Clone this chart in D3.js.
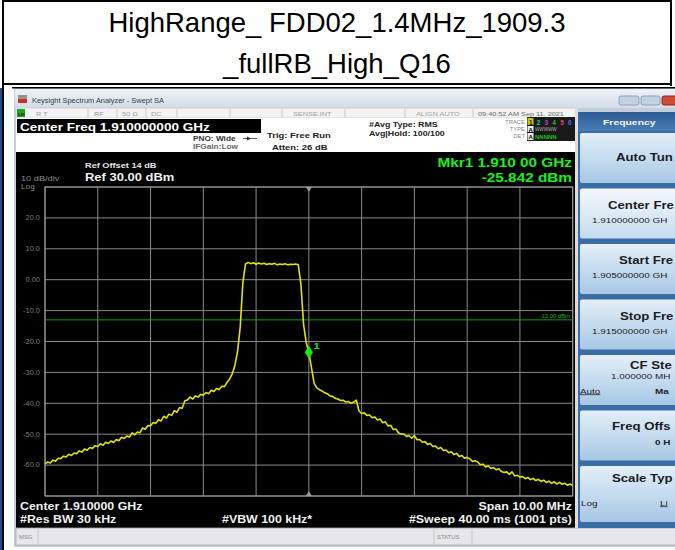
<!DOCTYPE html>
<html><head><meta charset="utf-8">
<script src="https://cdn.jsdelivr.net/npm/d3@7"></script>
<style>
html,body{margin:0;padding:0;background:#fff;}
svg{display:block;}
text{font-family:"Liberation Sans",Arial,sans-serif;}
</style>
</head><body>
<svg id="c" width="675" height="550"></svg>
<script>
// ---------------- DATA ----------------
const titleLines = ["HighRange_ FDD02_1.4MHz_1909.3", "_fullRB_High_Q16"];
const startMHz = 1905, stopMHz = 1915, stepMHz = 0.05;   // 201 trace bins
const refLevelDbm = 30, bottomLevelDbm = -70;
// trace level (dBm) per bin
const levelDbm = [
  -59.6,-59.0,-59.3,-58.4,-58.7,-57.8,-57.9,-57.1,-57.4,-56.5,-56.9,-56.1,-56.3,-55.4,-55.8,-54.8,-55.2,-54.3,-54.6,-53.7,
  -54.0,-53.1,-53.6,-52.6,-53.0,-52.2,-52.7,-51.7,-52.1,-51.0,-51.4,-50.6,-50.9,-49.6,-50.2,-49.3,-49.5,-48.0,-48.4,-47.2,
  -47.3,-46.2,-46.5,-45.3,-45.7,-44.2,-44.8,-43.5,-43.9,-42.4,-42.9,-41.4,-41.6,-39.2,-38.9,-38.0,-38.6,-37.6,-38.0,-37.1,
  -37.4,-36.5,-36.9,-35.8,-36.2,-35.2,-35.5,-34.5,-34.6,-33.2,-32.1,-30.4,-27.6,-23.1,-15.2,-0.8,5.1,5.6,5.2,5.5,
  5.0,5.4,5.1,5.3,4.9,5.2,5.0,5.3,4.8,5.1,4.9,5.2,4.8,5.0,4.9,5.1,4.8,-1.5,-14.5,-20.3,
  -23.5,-28.5,-33.5,-35.0,-35.6,-36.0,-36.6,-36.9,-37.6,-37.8,-38.4,-38.6,-39.1,-39.0,-39.6,-39.4,-40.0,-39.6,-39.0,-42.5,
  -43.3,-43.1,-43.9,-43.8,-44.7,-44.4,-45.4,-45.1,-46.3,-46.0,-47.3,-47.1,-48.5,-48.3,-49.6,-49.9,-50.0,-50.7,-50.5,-51.3,
  -50.4,-51.8,-51.7,-52.6,-52.4,-53.3,-53.0,-54.0,-53.8,-54.7,-54.3,-55.3,-55.1,-56.0,-55.7,-56.6,-56.2,-57.2,-56.9,-57.8,
  -57.5,-58.0,-58.8,-58.6,-59.0,-59.9,-59.7,-60.6,-60.2,-61.1,-60.8,-61.5,-61.2,-62.1,-62.4,-62.2,-63.0,-62.2,-63.5,-63.3,
  -63.9,-63.7,-64.4,-64.0,-64.7,-64.3,-65.0,-64.6,-65.3,-64.9,-65.6,-65.2,-65.9,-65.4,-66.1,-65.6,-66.2,-65.9,-66.5,-66.1,
  -66.6
];
const yTickValues = [20,10,0,-10,-20,-30,-40,-50,-60];
const yTickLabels = ["20.0","10.0","0.00","-10.0","-20.0","-30.0","-40.0","-50.0","-60.0"];
const displayLineDbm = -13;
const displayLineLabel = "-13.00 dBm";
const markerMHz = 1910.0;
const markerText = ["Mkr1 1.910 00 GHz", "-25.842 dBm"];
const headerTexts = {
  win: "Keysight Spectrum Analyzer - Swept SA",
  cf: "Center Freq 1.910000000 GHz",
  pno: "PNO: Wide", ifg: "IFGain:Low", trig: "Trig: Free Run", atten: "Atten: 26 dB",
  avg: "#Avg Type: RMS", hold: "Avg|Hold: 100/100",
  refOff: "Ref Offset 14 dB", ref: "Ref 30.00 dBm", div: "10 dB/div", log: "Log",
  date: "09:40:52 AM Sep 11, 2021"
};
const footerTexts = ["Center 1.910000 GHz", "#Res BW 30 kHz", "#VBW 100 kHz*", "Span 10.00 MHz", "#Sweep  40.00 ms (1001 pts)"];
// softkey texts as visible in the (right-cropped) screenshot
const softkeys = [
  {label:"Auto Tun"},
  {label:"Center Fre", value:"1.910000000 GH", sel:true},
  {label:"Start Fre", value:"1.905000000 GH"},
  {label:"Stop Fre", value:"1.915000000 GH"},
  {label:"CF Ste", value:"1.000000 MH", left:"Auto", right:"Ma"},
  {label:"Freq Offs", value:"0 H"},
  {label:"Scale Typ", left:"Log", right:"Li"}
];

// ---------------- DRAW ----------------
const svg = d3.select("#c");
const defs = svg.append("defs");
function grad(id, c1, c2){
  const g = defs.append("linearGradient").attr("id", id).attr("x1",0).attr("y1",0).attr("x2",0).attr("y2",1);
  g.append("stop").attr("offset","0%").attr("stop-color",c1);
  g.append("stop").attr("offset","100%").attr("stop-color",c2);
}
grad("gTitle","#eef2f7","#d3dce7");
grad("gHead","#2c5a93","#4b7db7");
grad("gBtn","#e4eff9","#a7c7e5");
grad("gBtnSel","#f4f8fc","#c6dbef");

const SX = 1.18; // the screenshot is stretched horizontally
function t(p, x, y, str, o = {}) {
  return p.append("text")
    .attr("transform", `translate(${x},${y}) scale(${o.sx ?? SX},1)`)
    .attr("text-anchor", o.anchor || "start")
    .style("font-size", (o.size || 8) + "px")
    .style("font-weight", o.bold ? "bold" : "normal")
    .style("text-decoration", o.under ? "underline" : null)
    .attr("fill", o.fill || "#fff")
    .text(str);
}

svg.append("rect").attr("width",675).attr("height",550).attr("fill","#fff");

// title cell
titleLines.forEach((s,i) => {
  svg.append("text").attr("x",337).attr("y", 32 + i*41).attr("text-anchor","middle")
    .style("font-size","27.5px").attr("fill","#000").text(s);
});

// window frame
const win = svg.append("g");
win.append("rect").attr("x",14).attr("y",88).attr("width",662).attr("height",459).attr("fill","#c4ceda");
win.append("rect").attr("x",15).attr("y",89).attr("width",661).attr("height",19).attr("fill","url(#gTitle)");
win.append("rect").attr("x",18).attr("y",95).attr("width",9).attr("height",4).attr("fill","#9c918a");
win.append("rect").attr("x",18).attr("y",99).attr("width",9).attr("height",4).attr("fill","#d22a22");
t(win, 32, 103, headerTexts.win, {size:6.3, fill:"#3a3a3a"});
win.append("rect").attr("x",619).attr("y",96).attr("width",20).attr("height",9).attr("rx",2).attr("fill","#c3d1e2").attr("stroke","#8ea3bd");
win.append("rect").attr("x",641).attr("y",96).attr("width",19).attr("height",9).attr("rx",2).attr("fill","#c3d1e2").attr("stroke","#8ea3bd");
win.append("rect").attr("x",662).attr("y",96).attr("width",16).attr("height",9).attr("rx",2).attr("fill","#cf4a32").attr("stroke","#8a2a1a");

// status row
const st = win.append("g");
st.append("rect").attr("x",16).attr("y",108).attr("width",560).attr("height",10).attr("fill","#f3f3f3").attr("stroke","#c0c0c0").attr("stroke-width",0.6);
st.append("rect").attr("x",17).attr("y",109).attr("width",8).attr("height",8).attr("fill","#1fa71f");
t(st, 18, 115.5, "LXI", {size:3.6, fill:"#002000", bold:true});
[["R  T",36],["RF",94],["50 Ω",122],["DC",151],["SENSE:INT",293],["ALIGN AUTO",416]].forEach(([s,x]) =>
  t(st, x, 115.5, s, {size:6.2, fill:"#a0a0a0"}));
t(st, 478, 115.5, headerTexts.date, {size:6.2, fill:"#6a6a6a"});
[88,117,146,177,230,282,345,405,473].forEach(x =>
  st.append("line").attr("x1",x).attr("x2",x).attr("y1",108.5).attr("y2",117.5).attr("stroke","#c8c8c8"));

// info area
const inf = win.append("g");
inf.append("rect").attr("x",16).attr("y",118).attr("width",560).attr("height",34).attr("fill","#fff");
inf.append("rect").attr("x",17).attr("y",119).attr("width",244).attr("height",14).attr("fill","#000");
t(inf, 20, 130.5, headerTexts.cf, {size:11.5, bold:true, fill:"#fff"});
t(inf, 193, 141, headerTexts.pno, {size:7, bold:true, fill:"#333"});
inf.append("line").attr("x1",243).attr("x2",257).attr("y1",138.5).attr("y2",138.5).attr("stroke","#333").attr("stroke-width",0.8);
inf.append("path").attr("d","M247,136.5 L251,138.5 L247,140.5 Z").attr("fill","#333");
t(inf, 193, 149, headerTexts.ifg, {size:7, bold:true, fill:"#666"});
t(inf, 267, 137.5, headerTexts.trig, {size:8, bold:true, fill:"#222"});
t(inf, 272, 150, headerTexts.atten, {size:8, bold:true, fill:"#222"});
t(inf, 369, 127, headerTexts.avg, {size:7.5, bold:true, fill:"#222"});
t(inf, 369, 136, headerTexts.hold, {size:7.5, bold:true, fill:"#222"});
// trace table
inf.append("rect").attr("x",527).attr("y",117).attr("width",48).attr("height",24).attr("fill","#1a1a1a");
[["TRACE",124],["TYPE",131],["DET",138]].forEach(([s,y]) => t(inf, 525, y, s, {size:5, fill:"#8a8a8a", anchor:"end"}));
inf.append("rect").attr("x",527.5).attr("y",118).attr("width",6).attr("height",7).attr("fill","#c9c900");
const trCols = ["#1a1a00","#00d0d0","#c040c0","#20c020","#e04868","#4a66ff"];
trCols.forEach((c,i) => t(inf, 529 + i*7.8, 124.5, String(i+1), {size:6.3, bold:true, fill:c, sx:1}));
inf.append("rect").attr("x",527.5).attr("y",126).attr("width",6).attr("height",6).attr("fill","#eee");
inf.append("rect").attr("x",527.5).attr("y",133).attr("width",6).attr("height",7).attr("fill","#eee");
t(inf, 528.5, 131.5, "A", {size:6, bold:true, fill:"#000", sx:1});
t(inf, 528.5, 139, "A", {size:6, bold:true, fill:"#000", sx:1});
t(inf, 535, 131, "WWWWW", {size:4.6, fill:"#b0b0b0", sx:1});
t(inf, 535, 139, "NNNNN", {size:6, bold:true, fill:"#1cc01c", sx:1});

// display area
const disp = win.append("g");
disp.append("rect").attr("x",16).attr("y",152).attr("width",560).attr("height",376).attr("fill","#000");

const x = d3.scaleLinear().domain([startMHz, stopMHz]).range([45, 572.7]);
const y = d3.scaleLinear().domain([bottomLevelDbm, refLevelDbm]).range([496, 187]);

t(disp, 21, 181, headerTexts.div, {size:7.8, fill:"#8c8c8c"});
t(disp, 21, 188.5, headerTexts.log, {size:7, fill:"#8c8c8c"});
t(disp, 85, 167.8, headerTexts.refOff, {size:7.8, bold:true, fill:"#e6e6e6"});
t(disp, 85, 180.5, headerTexts.ref, {size:11, bold:true, fill:"#f2f2f2"});
t(disp, 572, 166.5, markerText[0], {size:13, bold:true, fill:"#19f019", anchor:"end"});
t(disp, 572, 181.5, markerText[1], {size:13, bold:true, fill:"#19f019", anchor:"end"});

// grid
const grid = disp.append("g").attr("stroke","#8a8a8a").attr("stroke-width",1);
x.ticks(10).forEach(v => grid.append("line").attr("x1",x(v)).attr("x2",x(v)).attr("y1",y(refLevelDbm)).attr("y2",y(bottomLevelDbm)));
y.ticks(10).forEach(v => grid.append("line").attr("x1",x(startMHz)).attr("x2",x(stopMHz)).attr("y1",y(v)).attr("y2",y(v)));
grid.append("rect").attr("x",x(startMHz)).attr("y",y(refLevelDbm)).attr("width",x(stopMHz)-x(startMHz))
  .attr("height",y(bottomLevelDbm)-y(refLevelDbm)).attr("fill","none").attr("stroke","#999");

// y tick labels
yTickValues.forEach((v,i) => t(disp, 40, y(v)+2.3, yTickLabels[i], {size:6.3, fill:"#7a7a7a", anchor:"end"}));

// center markers on the top/bottom edges
const cx = x((startMHz+stopMHz)/2);
disp.append("path").attr("d",`M${cx-3},${y(refLevelDbm)} L${cx+3},${y(refLevelDbm)} L${cx},${y(refLevelDbm)+5} Z`).attr("fill","#9a9a9a");
disp.append("path").attr("d",`M${cx-3},${y(bottomLevelDbm)} L${cx+3},${y(bottomLevelDbm)} L${cx},${y(bottomLevelDbm)-5} Z`).attr("fill","#9a9a9a");

// display line
disp.append("line").attr("x1",x(startMHz)).attr("x2",x(stopMHz)).attr("y1",y(displayLineDbm)).attr("y2",y(displayLineDbm))
  .attr("stroke","#10a010").attr("stroke-width",1);
t(disp, 570, y(displayLineDbm)-2, displayLineLabel, {size:5, fill:"#20b020", anchor:"end"});

// trace
const pts = levelDbm.map((v,i) => [startMHz + i*stepMHz, v]);
disp.append("defs").append("clipPath").attr("id","gclip").append("rect")
  .attr("x",x(startMHz)).attr("y",y(refLevelDbm)).attr("width",x(stopMHz)-x(startMHz)).attr("height",y(bottomLevelDbm)-y(refLevelDbm));
disp.append("path").datum(pts).attr("clip-path","url(#gclip)")
  .attr("d", d3.line().x(d => x(d[0])).y(d => y(d[1])))
  .attr("fill","none").attr("stroke","#e2e200").attr("stroke-width",1.6).attr("stroke-linejoin","round");

// marker
const mi = Math.round((markerMHz - startMHz)/stepMHz);
const mx = x(pts[mi][0]), my = y(pts[mi][1]);
disp.append("path").attr("d",`M${mx},${my-6.5} L${mx+4},${my} L${mx},${my+6.5} L${mx-4},${my} Z`).attr("fill","#10f010");
t(disp, mx+5, my-3, "1", {size:9, bold:true, fill:"#10f010"});

// footer
t(disp, 20, 509.5, footerTexts[0], {size:10.5, bold:true, fill:"#f0f0f0"});
t(disp, 20, 522.5, footerTexts[1], {size:10.5, bold:true, fill:"#f0f0f0"});
t(disp, 222, 522.5, footerTexts[2], {size:10.5, bold:true, fill:"#f0f0f0"});
t(disp, 572, 509.5, footerTexts[3], {size:10.5, bold:true, fill:"#f0f0f0", anchor:"end"});
t(disp, 572, 522.5, footerTexts[4], {size:10.5, bold:true, fill:"#f0f0f0", anchor:"end"});

// msg bar
const mb = win.append("g");
mb.append("rect").attr("x",16).attr("y",528).attr("width",660).attr("height",17).attr("fill","#e6e6ec").attr("stroke","#a8a8b0").attr("stroke-width",0.8);
[38,434,472].forEach(xx => mb.append("line").attr("x1",xx).attr("x2",xx).attr("y1",529).attr("y2",544).attr("stroke","#c4c4cc"));
t(mb, 19, 539, "MSG", {size:5, fill:"#8a8a8a"});
t(mb, 437, 539, "STATUS", {size:5, fill:"#8a8a8a"});

// softkey panel
const pn = win.append("g");
pn.append("rect").attr("x",575).attr("y",108).attr("width",3).attr("height",420).attr("fill","#d9dee6");
pn.append("rect").attr("x",578).attr("y",108).attr("width",98).attr("height",420).attr("fill","#3a6ca6");
pn.append("rect").attr("x",578).attr("y",108).attr("width",98).attr("height",4).attr("fill","#c4ceda");
pn.append("rect").attr("x",579).attr("y",112).attr("width",97).attr("height",19).attr("fill","url(#gHead)");
t(pn, 603, 124.5, "Frequency", {size:8, bold:true, fill:"#f4f8ff", sx:1.3});
const btnTops = [133, 188.5, 244, 299.5, 355, 410.5, 466];
softkeys.forEach((k,i) => {
  const top = btnTops[i], h = i === 6 ? 56 : 50;
  pn.append("rect").attr("x",580).attr("y",top).attr("width",97).attr("height",h).attr("rx",2)
    .attr("fill", k.sel ? "url(#gBtnSel)" : "url(#gBtn)");
});
const PS = 1.32, kfs = 10, vfs = 7.5, kf = "#1c1c24";
t(pn, 616, 160.5, softkeys[0].label, {size:kfs, bold:true, fill:kf, sx:PS});
t(pn, 608, 209, softkeys[1].label, {size:kfs, bold:true, fill:kf, sx:PS});
t(pn, 592, 223, softkeys[1].value, {size:vfs, fill:"#222", sx:PS});
t(pn, 619, 264, softkeys[2].label, {size:kfs, bold:true, fill:kf, sx:PS});
t(pn, 592, 278, softkeys[2].value, {size:vfs, fill:"#222", sx:PS});
t(pn, 620, 320, softkeys[3].label, {size:kfs, bold:true, fill:kf, sx:PS});
t(pn, 592, 334, softkeys[3].value, {size:vfs, fill:"#222", sx:PS});
t(pn, 630, 369, softkeys[4].label, {size:kfs, bold:true, fill:kf, sx:PS});
t(pn, 611, 379, softkeys[4].value, {size:vfs, fill:"#222", sx:PS});
t(pn, 580, 393.5, softkeys[4].left, {size:vfs, fill:"#222", under:true, sx:PS});
t(pn, 655, 393.5, softkeys[4].right, {size:vfs, bold:true, fill:"#222", sx:PS});
t(pn, 612, 430, softkeys[5].label, {size:kfs, bold:true, fill:kf, sx:PS});
t(pn, 655, 444.5, softkeys[5].value, {size:vfs, bold:true, fill:"#222", sx:PS});
t(pn, 612, 482, softkeys[6].label, {size:kfs, bold:true, fill:kf, sx:PS});
t(pn, 581, 505.5, softkeys[6].left, {size:vfs, fill:"#222", sx:PS});
t(pn, 660, 505.5, softkeys[6].right, {size:vfs, fill:"#222", under:true, sx:PS});

// table borders (drawn last)
const b = svg.append("g").attr("fill","#000");
b.append("rect").attr("x",2).attr("y",0).attr("width",670).attr("height",2);
b.append("rect").attr("x",2).attr("y",0).attr("width",2).attr("height",550);
b.append("rect").attr("x",670).attr("y",0).attr("width",2).attr("height",86);
b.append("rect").attr("x",2).attr("y",83).attr("width",670).attr("height",2);
b.append("rect").attr("x",12).attr("y",87).attr("width",663).attr("height",1.5);
svg.append("rect").attr("x",0).attr("y",88).attr("width",2).attr("height",462).attr("fill","#274a86");
</script>
</body></html>
